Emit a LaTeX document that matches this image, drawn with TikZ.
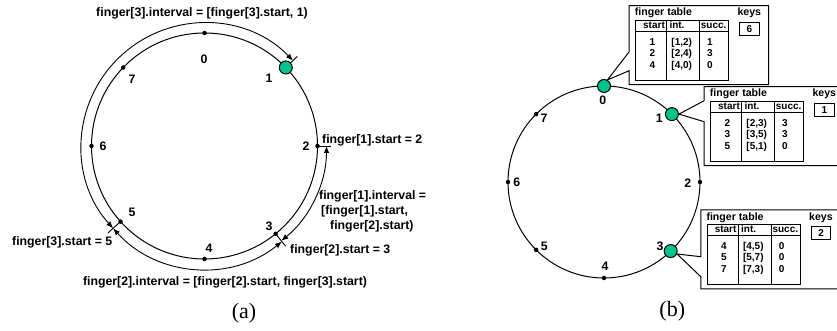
\documentclass[tikz,border=0pt]{standalone}
\usepackage{fontspec}
\setmainfont{Liberation Serif}
\setsansfont{Liberation Sans}
\usetikzlibrary{arrows.meta}

\definecolor{peergreen}{RGB}{0,194,140}
\newcommand{\ringfont}{\fontsize{12.3}{15}\selectfont\sffamily\bfseries}
\newcommand{\tabfont}{\fontsize{10}{11.5}\selectfont\sffamily\bfseries}
\newcommand{\tabheadfont}{\fontsize{10.6}{12}\selectfont\sffamily\bfseries}

% finger table: #1 name, #2 x, #3 y (top left corner of the grid), #4 keys, #5 rows
\newcommand{\fingertable}[5]{%
  \begin{scope}[shift={(#2,#3)}]
    \draw[tabline] (0,0) rectangle (93,-60);
    \draw[tabline] (0,-11) -- (93,-11) (31,0) -- (31,-60) (64,0) -- (64,-60);
    \node[tabtitle, anchor=west] (#1-title) at (-1,7.5) {finger table};
    \node[tabtitle] (#1-keys) at (113.6,7.5) {keys};
    \node[keybox] (#1-key) at (113.75,-8.25) {#4};
    \node[tabcell] (#1-start) at (18.3,-5.5) {start};
    \node[tabcell] (#1-int) at (41.3,-5.5) {int.};
    \node[tabcell] (#1-succ) at (78,-5.5) {succ.};
    \foreach \s/\i/\c [count=\k] in {#5} {
      \node[tabcell] (#1-s\k) at (16.6,-10.5-11.5*\k) {\s};
      \node[tabcell] (#1-i\k) at (46,-10.5-11.5*\k) {\i};
      \node[tabcell] (#1-c\k) at (74.3,-10.5-11.5*\k) {\c};
    }
  \end{scope}}

\begin{document}
\begin{tikzpicture}[x=1pt,y=1pt]
  \tikzset{ring/.style={line width=1pt},
    dot/.style={circle, fill=black, inner sep=0, minimum size=4.5pt},
    peer/.style={circle, draw, line width=1pt, fill=peergreen,
      inner sep=0, minimum size=13pt},
    idlabel/.style={font=\ringfont, inner sep=0},
    remark/.style={font=\ringfont, inner sep=0},
    interval/.style={line width=0.9pt, <->, >={Latex[length=7pt,width=5.5pt]}},
    tick/.style={line width=0.9pt},
    tabline/.style={line width=1pt},
    tabtitle/.style={font=\tabheadfont, inner sep=0},
    tabcell/.style={font=\tabfont, inner sep=0, text height=7pt, text depth=2pt},
    keybox/.style={draw, line width=1pt, font=\tabfont, inner sep=0,
      minimum width=19.5pt, minimum height=12.5pt},
    subcap/.style={font=\rmfamily\fontsize{22}{26}\selectfont, inner sep=0}}
  \useasboundingbox (0,0) rectangle (837,331);
  \clip (0,0) rectangle (837,331);

  % (a) the ring with the finger intervals
  \begin{scope}[shift={(204.5,185)}]
    \draw[ring] (0,0) circle[radius=113];
    \foreach \a/\n in {90/0, 0/2, -51/3, -90/4, -138/5, 180/6, 136/7}
      \node[dot] (a\n) at (\a:113) {};
    \draw[tick] (44:113) -- (44:129);
    \node[peer] (a1) at (44:113) {};
    \draw[tick] (a2.center) -- (0:126);
    \draw[tick] (a3.center) -- (-51:129);
    \draw[tick] (a5.center) -- (-138:130);

    % intervals
    \draw[interval] (-138:123) arc[start angle=222, end angle=44, radius=123];
    \draw[interval] (0:122) arc[start angle=0, end angle=-51, radius=122];
    \draw[interval] (-51:123) arc[start angle=-51, end angle=-138, radius=123];

    \node[idlabel] (la0) at (-0.5,87) {0};
    \node[idlabel] (la1) at (64.5,68) {1};
    \node[idlabel] (la2) at (101.5,0) {2};
    \node[idlabel] (la3) at (64.5,-80) {3};
    \node[idlabel] (la4) at (4.5,-102) {4};
    \node[idlabel] (la5) at (-72.5,-66) {5};
    \node[idlabel] (la6) at (-101.5,0) {6};
    \node[idlabel] (la7) at (-72.5,67) {7};
  \end{scope}

  \node[remark] (i3) at (202,318) {finger[3].interval = [finger[3].start, 1)};
  \node[remark, anchor=west] (s1) at (322,191) {finger[1].start = 2};
  \node[remark, anchor=west, align=left] (i1) at (319,120)
    {finger[1].interval =\\\hspace{2pt}[finger[1].start,\\\hspace{11pt}finger[2].start)};
  \node[remark, anchor=west] (s2) at (290,81) {finger[2].start = 3};
  \node[remark, anchor=west] (s3) at (12,89) {finger[3].start = 5};
  \node[remark] (i2) at (225,49) {finger[2].interval = [finger[2].start, finger[3].start)};
  \node[subcap] (capa) at (244,18) {(a)};

  % (b) the ring with the finger tables
  \begin{scope}[shift={(604,149)}]
    \draw[ring] (0,0) circle[radius=96];
    \foreach \a/\n in {0/2, 180/6, 225/5, 270/4, 135/7}
      \node[dot] (b\n) at (\a:96) {};
    \foreach \a/\n in {90/0, 45/1, -46/3}
      \node[peer] (b\n) at (\a:96) {};

    \node[idlabel] (lb0) at (-1.3,81.3) {0};
    \node[idlabel] (lb1) at (55.3,64) {1};
    \node[idlabel] (lb2) at (83.7,-1) {2};
    \node[idlabel] (lb3) at (56,-64) {3};
    \node[idlabel] (lb4) at (1,-84.7) {4};
    \node[idlabel] (lb5) at (-59.7,-64) {5};
    \node[idlabel] (lb6) at (-87.3,0) {6};
    \node[idlabel] (lb7) at (-60,64) {7};
  \end{scope}

  \fingertable{t0}{635.7}{310.3}{6}{1/{[1,2)}/1, 2/{[2,4)}/3, 4/{[4,0)}/0}
  \draw[tabline] (629.2,279.3) |- (768.7,325.3) |- (629.2,246.3)
    -- (629.2,260.3) -- (b0.60) -- cycle;

  \fingertable{t1}{710.7}{229.3}{1}{2/{[2,3)}/3, 3/{[3,5)}/3, 5/{[5,1)}/0}
  \draw[tabline] (704.2,230.3) |- (843.7,244.3) |- (704.2,165.3)
    -- (704.2,209.3) -- (b1.east) -- cycle;

  \fingertable{t3}{707.3}{106}{2}{4/{[4,5)}/0, 5/{[5,7)}/0, 7/{[7,3)}/0}
  \draw[tabline] (700.8,74.3) |- (840.3,121) |- (700.8,42)
    -- (700.8,54.3) -- (b3.-25) -- cycle;

  \node[subcap] (capb) at (672.3,19.3) {(b)};
\end{tikzpicture}
\end{document}
